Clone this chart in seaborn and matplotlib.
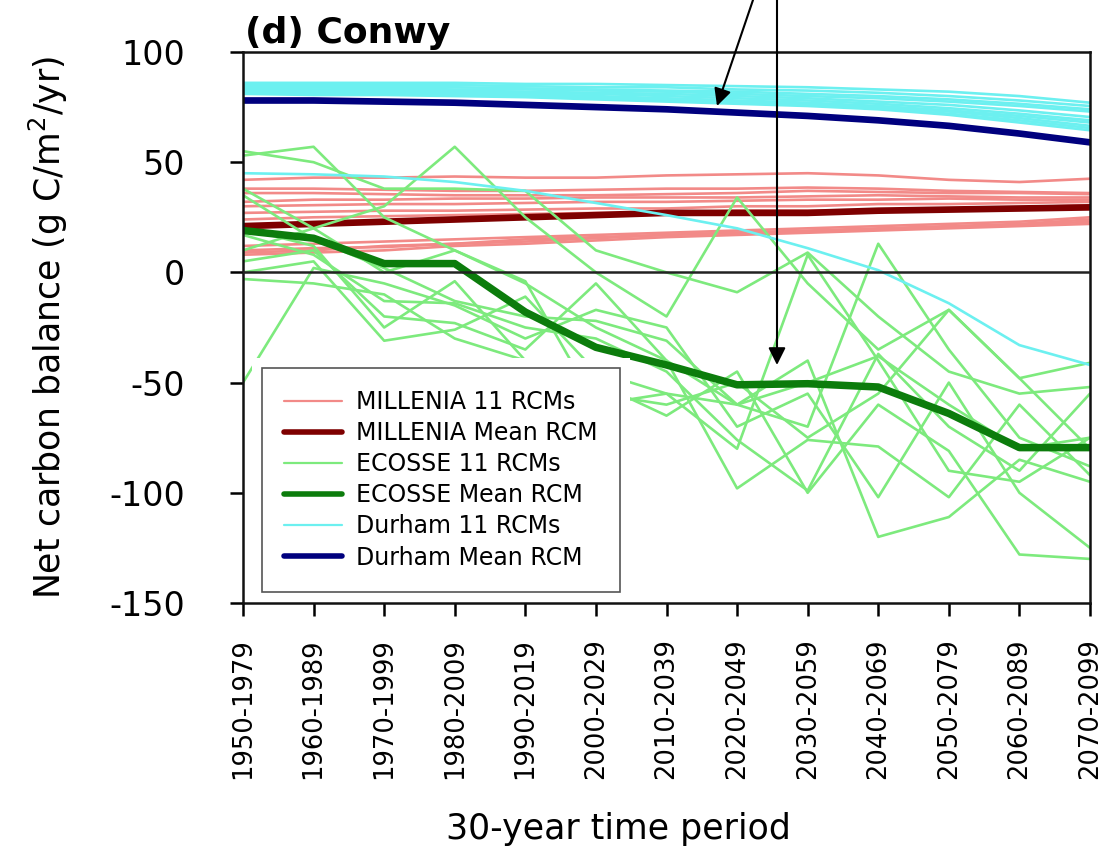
import numpy as np
import pandas as pd
import matplotlib
matplotlib.use("Agg")
import matplotlib.pyplot as plt
from matplotlib.lines import Line2D
from matplotlib.patches import Rectangle
import seaborn as sns

# 30-year periods on the x axis
periods = ["1950-1979", "1960-1989", "1970-1999", "1980-2009", "1990-2019",
           "2000-2029", "2010-2039", "2020-2049", "2030-2059", "2040-2069",
           "2050-2079", "2060-2089", "2070-2099"]

# MILLENIA model, 11 regional climate model runs (g C/m2/yr)
millenia_runs = [
    [42, 43, 43, 43.5, 43, 43, 44, 44.5, 45, 44, 42, 41, 42.5],
    [38, 38, 37.5, 37, 37, 37.5, 38, 38, 38.5, 38, 37, 36.5, 36],
    [36, 36, 35.5, 35, 35, 35, 35.5, 36, 37, 36.5, 36, 36, 35.5],
    [32, 33, 33, 33.5, 33.5, 34, 34, 34, 34.5, 35, 34.5, 34, 34],
    [30, 30.5, 31, 31, 31.5, 32, 32, 32.5, 33, 33, 33.5, 33, 33],
    [27, 27.5, 28, 28, 28.5, 29, 29, 30, 30, 31, 31, 31.5, 32],
    [24, 25, 25.5, 26, 26.5, 27, 27, 28, 28, 28.5, 29, 29.5, 30.5],
    [12, 13, 14, 15, 16, 17, 18, 19, 20, 21, 22, 23, 25],
    [9, 10, 12, 13, 15, 16, 17, 18, 18.5, 19.5, 20.5, 21.5, 23],
    [8, 9, 10, 12, 13, 14.5, 16, 17, 18, 19, 20, 21, 22],
    [10, 11, 11.5, 13, 14, 15.5, 17, 18, 19, 20, 21, 22, 24],
]
millenia_mean = [21, 22, 23, 24, 25, 26, 27, 27, 27, 28, 28.5, 29, 29.5]

# ECOSSE model, 11 runs and the mean-climate run
ecosse_runs = [
    [55, 50, 38, 38, 37, 10, 0, -9, 9, -20, -45, -55, -52],
    [53, 57, 25, 10, -5, -25, -40, -60, -50, -38, -60, -80, -75],
    [38, 20, 30, 57, 25, 0, -20, 34, -5, -35, -17, -48, -41],
    [35, 15, 2, -13, -20, -22, -31, -60, -70, 13, -35, -75, -88],
    [17, 8, -13, -14, -25, -30, -45, -76, -99, -37, -70, -90, -55],
    [5, 10, -20, -23, -35, -5, -40, -98, -76, -79, -102, -60, -92],
    [0, 5, -31, -26, -11, -45, -55, -60, -40, -120, -111, -85, -95],
    [-3, -5, -10, -30, -40, -50, -65, -45, -100, -60, -81, -128, -130],
    [-50, 2, -5, -15, -30, -17, -25, -70, -55, -102, -50, -100, -125],
    [20, 12, -25, -4, -40, -55, -60, -50, -75, -55, -17, -48, -80],
    [10, 20, 0, 10, -4, -60, -55, -80, 8, -40, -90, -95, -75],
]
ecosse_mean = [19, 15.5, 4, 4, -18, -34, -42, -51, -50.5, -52, -64, -79.5, -79.5]

# Durham model, 11 runs and the mean-climate run
durham_runs = [
    [86, 86, 86, 86, 85.5, 85.5, 85, 84.5, 84, 83, 82, 80, 77],
    [85, 85, 85, 85, 84.5, 84, 84, 83, 82.5, 81.5, 80, 78, 75.5],
    [84.5, 84.5, 84, 84, 83.5, 83, 82.5, 82, 81, 80, 78.5, 76.5, 74],
    [84, 84, 83.5, 83, 83, 82.5, 82, 81, 80, 79, 77.5, 75.5, 73],
    [83.5, 83, 83, 82.5, 82, 81.5, 81, 80, 79, 77.5, 76, 73.5, 70.5],
    [83, 83, 82.5, 82, 81.5, 81, 80, 79, 78, 76.5, 74.5, 72, 69],
    [82.5, 82, 82, 81.5, 81, 80, 79, 78, 77, 75.5, 73.5, 71, 68],
    [82, 82, 81.5, 81, 80.5, 79.5, 78.5, 77.5, 76.5, 75, 73, 70, 66.5],
    [81.5, 81, 81, 80.5, 80, 79, 78, 77, 76, 74.5, 72, 69, 65.5],
    [81, 80.5, 80.5, 80, 79.5, 78.5, 77.5, 76.5, 75.5, 74, 71.5, 68, 64.5],
    [45, 44.5, 43.5, 41, 37, 31.5, 26, 20, 11, 1, -14, -33, -42],
]
durham_mean = [78, 78, 77.5, 77, 76, 75, 74, 72.5, 71, 69, 66.5, 63, 59]

sns.set_theme(style="ticks")
plt.rcParams["font.family"] = ["DejaVu Sans"]
plt.rcParams["axes.unicode_minus"] = False
for key in ("text.color", "axes.labelcolor", "xtick.color", "ytick.color",
            "axes.edgecolor"):
    plt.rcParams[key] = "black"

W, H = 1102, 846
fig = plt.figure(figsize=(W / 100, H / 100), dpi=100)
ax = fig.add_axes([243 / W, 1 - 603 / H, (1090 - 243) / W, (603 - 52) / H])

x = np.arange(len(periods))

c_mil, c_mil_mean = "#F28A88", "#7E0000"
c_eco, c_eco_mean = "#7DEA7D", "#0C7C0C"
c_dur, c_dur_mean = "#6CF0F0", "#00007E"
thin, thick = 1.9, 4.8


def runs_frame(runs):
    n = len(runs)
    return pd.DataFrame({
        "x": np.tile(x, n),
        "value": np.ravel(np.array(runs, dtype=float)),
        "run": np.repeat(np.arange(n), len(x)),
    })


sns.lineplot(data=runs_frame(millenia_runs), x="x", y="value", units="run",
             estimator=None, color=c_mil, lw=thin, ax=ax, legend=False)
sns.lineplot(x=x, y=millenia_mean, color=c_mil_mean, lw=thick, ax=ax)
sns.lineplot(data=runs_frame(ecosse_runs), x="x", y="value", units="run",
             estimator=None, color=c_eco, lw=thin, ax=ax, legend=False)
sns.lineplot(data=runs_frame(durham_runs), x="x", y="value", units="run",
             estimator=None, color=c_dur, lw=thin, ax=ax, legend=False)
sns.lineplot(x=x, y=ecosse_mean, color=c_eco_mean, lw=thick + 0.6, ax=ax)
sns.lineplot(x=x, y=durham_mean, color=c_dur_mean, lw=thick, ax=ax)

ax.axhline(0, color="#222222", lw=1.8, zorder=3)

ax.set_xlim(0, len(periods) - 1)
ax.set_ylim(-150, 100)
ax.set_yticks([-150, -100, -50, 0, 50, 100])
ax.set_xticks(x)
ax.set_xticklabels(periods, rotation=90, fontsize=18.5)
ax.tick_params(axis="y", labelsize=24, length=9.5, width=1.8, pad=32, direction="out")
ax.tick_params(axis="x", length=9.5, width=1.8, pad=16, direction="out")
for s in ax.spines.values():
    s.set_visible(True)
    s.set_color("#111111")
    s.set_linewidth(1.8)

ax.set_xlabel("30-year time period", fontsize=25)
ax.xaxis.set_label_coords((618 - 243) / 847, -(812 - 603) / 551)
ax.xaxis.label.set_va("top")
ax.set_ylabel(r"Net carbon balance (g C/m$^2$/yr)", fontsize=25)
ax.yaxis.set_label_coords(-(243 - 70) / 847, 0.5)

ax.text(0.002, 1.004, "(d) Conwy", transform=ax.transAxes, fontsize=26,
        fontweight="bold", ha="left", va="bottom")

handles = [
    Line2D([], [], color=c_mil, lw=1.6),
    Line2D([], [], color=c_mil_mean, lw=4),
    Line2D([], [], color=c_eco, lw=1.6),
    Line2D([], [], color=c_eco_mean, lw=4),
    Line2D([], [], color=c_dur, lw=1.6),
    Line2D([], [], color=c_dur_mean, lw=4),
]
labels = ["MILLENIA 11 RCMs", "MILLENIA Mean RCM", "ECOSSE 11 RCMs",
          "ECOSSE Mean RCM", "Durham 11 RCMs", "Durham Mean RCM"]
leg = ax.legend(handles, labels, loc="lower left",
                bbox_to_anchor=((262 - 243) / 847, (603 - 592) / 551),
                fontsize=17, frameon=True, fancybox=False, framealpha=1,
                edgecolor="#555555", borderpad=0.95, labelspacing=0.3,
                handlelength=2.45, handletextpad=0.6, borderaxespad=0)
leg.get_frame().set_linewidth(1.2)
leg.set_zorder(6)

# white margin around the legend box
fig.canvas.draw()
bb = leg.get_window_extent()
m = 10
ax.add_patch(Rectangle(((bb.x0 - m) / W, (bb.y0 - m) / H),
                       (bb.width + 2 * m) / W, (bb.height + 2 * m) / H,
                       transform=fig.transFigure, facecolor="white",
                       edgecolor="none", zorder=5, clip_on=False))

# callout arrows from above the panel
arrow = dict(arrowstyle="-|>", color="black", lw=1.5, mutation_scale=26,
             shrinkA=0, shrinkB=0)
ax.annotate("", xy=(717 / W, 1 - 106 / H), xycoords="figure fraction",
            xytext=(753 / W, 1.0), textcoords="figure fraction",
            arrowprops=arrow, annotation_clip=False, zorder=7)
ax.annotate("", xy=(777 / W, 1 - 365 / H), xycoords="figure fraction",
            xytext=(777 / W, 1.0), textcoords="figure fraction",
            arrowprops=arrow, annotation_clip=False, zorder=7)

fig.savefig("out.png", dpi=100)
